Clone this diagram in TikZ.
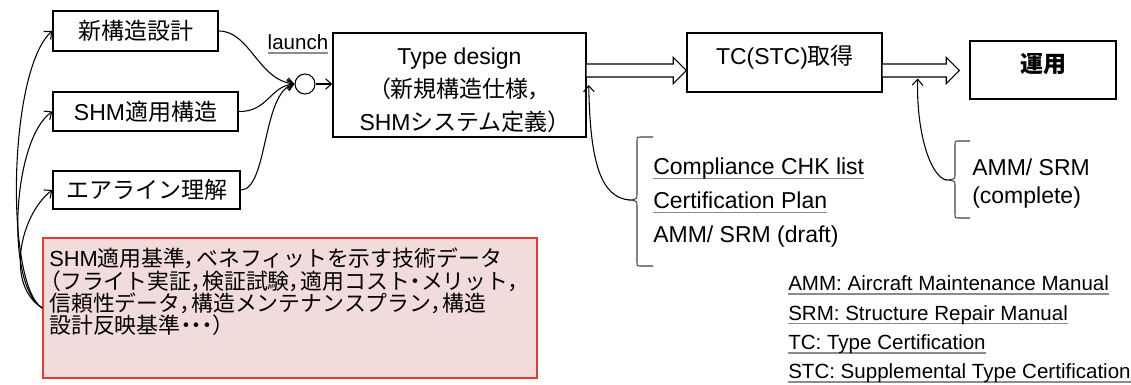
\documentclass[tikz,border=0pt]{standalone}
\usepackage{fontspec}
\setmainfont{Liberation Sans}
\newfontfamily\jp{Noto Sans CJK JP}
\newfontfamily\jpp[RawFeature=+palt]{Noto Sans CJK JP}
\usetikzlibrary{arrows.meta,calc}
\newcommand\J[1]{{\jp #1}}
\newcommand\Pu[1]{{\jpp #1}}
\newcommand\uln[1]{\setbox0\hbox{#1}\rlap{\color{black!45}\rule[-3.2pt]{\wd0}{1.2pt}}\box0}
\definecolor{pinkfill}{HTML}{F2DCDB}
\definecolor{redline}{HTML}{E53935}
\tikzset{
  box/.style={draw, line width=1.1pt, inner sep=0pt, align=center, font=\fontsize{17.25}{24.75}\selectfont},
  txt/.style={inner sep=0pt, align=center, font=\fontsize{17.25}{24.75}\selectfont},
  conn/.style={line width=0.8pt, -{Straight Barb[length=4.5pt,width=8pt]}},
  fat/.style={line width=0.8pt, fill=white},
  brace/.style={line width=0.8pt, draw=black!75},
  redbox/.style={draw=redline, fill=pinkfill, line width=1.1pt, inner sep=0pt}
}
\begin{document}
\begin{tikzpicture}[x=0.75pt,y=-0.75pt]
\useasboundingbox (0,0) rectangle (1131,385);

% left column boxes
\node[box, minimum width=123.75pt, minimum height=30pt] (n1) at (135.5,31) {\J{新構造設計}};
\node[box, minimum width=138.75pt, minimum height=29.25pt] (n2) at (145.5,111.5) {SHM\J{適用構造}};
\node[box, minimum width=140.25pt, minimum height=28.5pt] (n3) at (146.5,190) {\J{エアライン理解}};

% red box
\node[redbox, minimum width=370.5pt, minimum height=105pt] (rb) at (290,308) {};
\node[anchor=west, align=left, inner sep=0pt, font=\fontsize{16.4}{16.75}\selectfont] (rbt) at (49,292)
  {SHM\J{適用基準}\Pu{，}\J{ベネフィットを示す技術データ}\\
   \Pu{（}\J{フライト実証}\Pu{，}\J{検証試験}\Pu{，}\J{適用コスト}\Pu{・}\J{メリット}\Pu{，}\\
   \J{信頼性データ}\Pu{，}\J{構造メンテナンスプラン}\Pu{，}\J{構造}\\
   \J{設計反映基準}\Pu{・・・）}};

% junction circle and launch
\node[circle, draw, line width=0.8pt, minimum size=15pt, inner sep=0pt] (c) at (305,84) {};
\node[inner sep=0pt, font=\fontsize{15.4}{18}\selectfont] (launch) at (298,44) {\uln{launch}};

% main boxes
\node[box, minimum width=189.75pt, minimum height=78pt] (td) at (459.5,85) {};
\node[txt] (tdt) at (459.5,90) {Type design\\\Pu{（}\J{新規構造仕様}\Pu{，}\\SHM\J{システム定義}\Pu{）}};
\node[box, minimum width=146.25pt, minimum height=44.25pt] (tc) at (784.5,62.5) {};
\node[txt] (tct) at (785,57) {TC(STC)\J{取得}};
\node[box, minimum width=109.5pt, minimum height=43.5pt] (op) at (1043,70) {};
\node[txt] (opt) at (1043,64) {\J{\bfseries 運用}};

% connectors left
\draw[conn] (rb.west) .. controls (5,285) and (8,70) .. (n1.west);
\draw[conn] (rb.west) .. controls (5,285) and (12,140) .. (n2.west);
\draw[conn] (rb.west) .. controls (5,285) and (20,215) .. (n3.west);

% into circle
\draw[conn] (n1.east) .. controls (250,31) and (258,80) .. (c.west);
\draw[conn] (n2.east) .. controls (268,112) and (270,86) .. (c.west);
\draw[conn] (n3.east) .. controls (268,190) and (262,92) .. (c.west);
\draw[conn] (c.east) -- (c.east -| td.west);

% hollow arrows
\coordinate (s1) at ($(td.east)+(0,-14.5)$);
\coordinate (t1) at ($(tc.west)+(0,8)$);
\draw[fat] ($(s1)+(0,-6.5)$) -- ($(t1)+(-13,-6.5)$) -- ($(t1)+(-13,-13)$) -- (t1)
  -- ($(t1)+(-13,13)$) -- ($(t1)+(-13,6.5)$) -- ($(s1)+(0,6.5)$);
\coordinate (s2) at ($(tc.east)+(0,8)$);
\coordinate (t2) at ($(op.west)+(-10,0.5)$);
\draw[fat] ($(s2)+(0,-6.5)$) -- ($(t2)+(-13,-6.5)$) -- ($(t2)+(-13,-13)$) -- (t2)
  -- ($(t2)+(-13,13)$) -- ($(t2)+(-13,6.5)$) -- ($(s2)+(0,6.5)$);

% compliance bracket
\coordinate (b1) at (630,200);
\draw[brace] (653,137) -- (641,137) .. controls (637,137) .. (637,141) -- (637,194)
  .. controls (637,199) .. (b1) .. controls (637,201) .. (637,206) -- (637,262)
  .. controls (637,266) .. (641,266) -- (653,266);
\draw[conn] (b1) .. controls (600,198) and (590,160) .. ($(td.east)+(2,0)$);
\node[anchor=west, align=left, inner sep=0pt, font=\fontsize{17.25}{25.5}\selectfont] (cl) at (653,203)
  {\uln{Compliance CHK list}\\\uln{Certification Plan}\\AMM/ SRM (draft)};

% complete bracket
\coordinate (b2) at (947,180);
\draw[brace] (970,141) -- (959,141) .. controls (955,141) .. (955,145) -- (955,175)
  .. controls (955,179) .. (b2) .. controls (955,181) .. (955,185) -- (955,214)
  .. controls (955,218) .. (959,218) -- (970,218);
\coordinate (a2b) at ($(tc.east)+(35,16)$);
\draw[conn] (b2) .. controls (930,178) and (916,130) .. (a2b);
\node[anchor=west, align=left, inner sep=0pt, font=\fontsize{17.25}{21}\selectfont] (amc) at (972,184)
  {AMM/ SRM\\(complete)};

% legend
\node[anchor=west, align=left, inner sep=0pt, font=\fontsize{15.4}{22}\selectfont] (leg) at (788,329.5)
  {\uln{AMM: Aircraft Maintenance Manual}\\\uln{SRM: Structure Repair Manual}\\\uln{TC: Type Certification}\\\uln{STC: Supplemental Type Certification}};
\end{tikzpicture}
\end{document}
